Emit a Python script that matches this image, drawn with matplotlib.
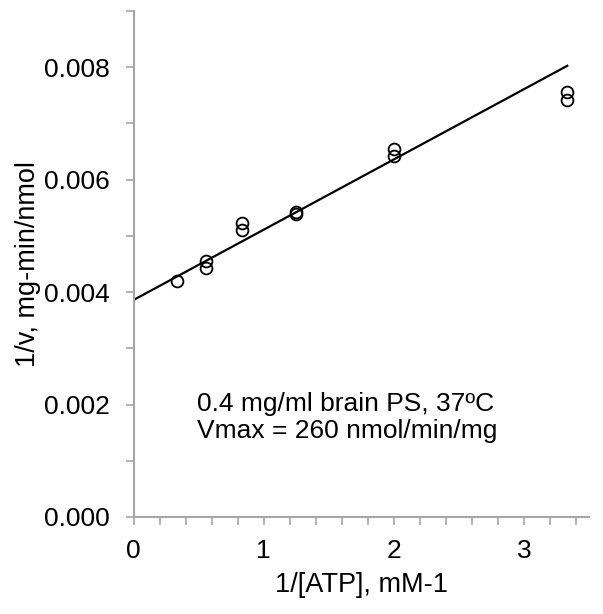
import matplotlib
matplotlib.use("Agg")
import matplotlib.pyplot as plt
from matplotlib.ticker import MultipleLocator, FormatStrFormatter

plt.rcParams['font.family'] = ['Liberation Sans', 'DejaVu Sans']

# Lineweaver-Burk Daten
atp_inv = [0.333, 0.556, 0.556, 0.833, 0.833, 1.25, 1.25, 2.0, 2.0, 3.333, 3.333]
v_inv = [0.00419, 0.00455, 0.00443, 0.00523, 0.00510, 0.00543, 0.00539,
         0.00655, 0.00643, 0.00756, 0.00742]

# Regressionsgerade
fit_intercept = 0.00386
fit_slope = 0.00125
fit_x = [0.0, 3.333]

note = "0.4 mg/ml brain PS, 37ºC\nVmax = 260 nmol/min/mg"

fig = plt.figure(figsize=(6.03, 6.14), dpi=100)
ax = fig.add_axes([0.2214, 0.158, 0.7554, 0.824])

fit_y = [fit_intercept + fit_slope * x for x in fit_x]
ax.plot(fit_x, fit_y, color='black', lw=1.6)
ax.plot(atp_inv, v_inv, 'o', ms=8.5, mfc='none', mec='black', mew=1.3)

ax.set_xlim(0, 3.5)
ax.set_ylim(0, 0.009)
ax.xaxis.set_major_locator(MultipleLocator(1))
ax.xaxis.set_minor_locator(MultipleLocator(0.2))
ax.yaxis.set_major_locator(MultipleLocator(0.002))
ax.yaxis.set_minor_locator(MultipleLocator(0.001))
ax.yaxis.set_major_formatter(FormatStrFormatter('%.3f'))

for side in ['top', 'right']:
    ax.spines[side].set_visible(False)
for side in ['left', 'bottom']:
    ax.spines[side].set_color('#a6a6a6')
    ax.spines[side].set_linewidth(1.5)

ax.tick_params(which='both', direction='out', length=6, width=1.2, color='#a6a6a6')
ax.tick_params(axis='y', which='major', pad=11, labelsize=19)
ax.tick_params(axis='x', which='major', pad=10, labelsize=19)

ax.set_xlabel('1/[ATP], mM-1', fontsize=19.5, labelpad=6)
ax.set_ylabel('1/v, mg-min/nmol', fontsize=19.5, labelpad=2)

ax.text(0.49, 0.00177, note, fontsize=19, ha='left', va='center', linespacing=1.12)

fig.savefig('out.png', dpi=100)
